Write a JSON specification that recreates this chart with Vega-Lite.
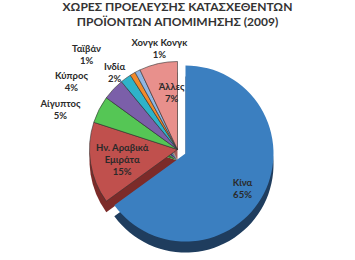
{
  "$schema": "https://vega.github.io/schema/vega-lite/v6.json",
  "width": 355,
  "height": 260,
  "autosize": {"type": "fit", "contains": "padding"},
  "padding": {"left": 4, "right": 4, "top": 13, "bottom": 2},
  "background": "white",
  "config": {"view": {"stroke": null}},
  "title": {
    "text": ["ΧΩΡΕΣ ΠΡΟΕΛΕΥΣΗΣ ΚΑΤΑΣΧΕΘΕΝΤΩΝ", "ΠΡΟΪΟΝΤΩΝ ΑΠΟΜΙΜΗΣΗΣ (2009)"],
    "font": "Lato",
    "fontSize": 12,
    "fontWeight": "bold",
    "color": "#333333",
    "anchor": "middle",
    "lineHeight": 15,
    "offset": 0
  },
  "data": {
    "values": [
      {"idx": 1, "country": "Κίνα", "value": 65, "label": "Κίνα\n65%"},
      {"idx": 2, "country": "Ην. Αραβικά Εμιράτα", "value": 15, "label": "Ην. Αραβικά\nΕμιράτα\n15%"},
      {"idx": 3, "country": "Αίγυπτος", "value": 5, "label": "Αίγυπτος\n5%"},
      {"idx": 4, "country": "Κύπρος", "value": 4, "label": "Κύπρος\n4%"},
      {"idx": 5, "country": "Ινδία", "value": 2, "label": "Ινδία\n2%"},
      {"idx": 6, "country": "Ταϊβάν", "value": 1, "label": "Ταϊβάν\n1%"},
      {"idx": 7, "country": "Χονγκ Κονγκ", "value": 1, "label": "Χονγκ Κονγκ\n1%"},
      {"idx": 8, "country": "Άλλες", "value": 7, "label": "Άλλες\n7%"}
    ]
  },
  "encoding": {
    "theta": {"field": "value", "type": "quantitative", "stack": true},
    "order": {"field": "idx", "type": "quantitative"}
  },
  "layer": [
    {
      "mark": {"type": "arc", "outerRadius": 88, "y": {"expr": "height/2+11"}},
      "encoding": {
        "color": {"field": "country", "type": "nominal", "legend": null,
          "scale": {"domain": ["Κίνα", "Ην. Αραβικά Εμιράτα", "Αίγυπτος", "Κύπρος", "Ινδία", "Ταϊβάν", "Χονγκ Κονγκ", "Άλλες"],
                    "range": ["#1f3d5e", "#7c2b29", "#2e7f2e", "#4a3872", "#1b6f7e", "#9a5414", "#58799f", "#a25c58"]}},
        "opacity": {"condition": {"test": "datum.country === 'Κίνα'", "value": 0}, "value": 1}
      }
    },
    {
      "mark": {"type": "arc", "outerRadius": 88, "y": {"expr": "height/2"}, "stroke": "#333333", "strokeWidth": 0.6},
      "encoding": {
        "color": {"field": "country", "type": "nominal", "legend": null,
          "scale": {"domain": ["Κίνα", "Ην. Αραβικά Εμιράτα", "Αίγυπτος", "Κύπρος", "Ινδία", "Ταϊβάν", "Χονγκ Κονγκ", "Άλλες"],
                    "range": ["#3b7fc0", "#c0504d", "#55c655", "#7b5fa9", "#2fb3c9", "#f28a2a", "#8fb6e2", "#e8908c"]}},
        "opacity": {"condition": {"test": "datum.country === 'Κίνα'", "value": 0}, "value": 1}
      }
    },
    {
      "mark": {"type": "arc", "outerRadius": 88, "x": {"expr": "width/2+8"}, "y": {"expr": "height/2+15"}},
      "encoding": {
        "color": {"field": "country", "type": "nominal", "legend": null,
          "scale": {"domain": ["Κίνα", "Ην. Αραβικά Εμιράτα", "Αίγυπτος", "Κύπρος", "Ινδία", "Ταϊβάν", "Χονγκ Κονγκ", "Άλλες"],
                    "range": ["#1f3d5e", "#7c2b29", "#2e7f2e", "#4a3872", "#1b6f7e", "#9a5414", "#58799f", "#a25c58"]}},
        "opacity": {"condition": {"test": "datum.country === 'Κίνα'", "value": 1}, "value": 0}
      }
    },
    {
      "mark": {"type": "arc", "outerRadius": 88, "x": {"expr": "width/2+8"}, "y": {"expr": "height/2+4"}},
      "encoding": {
        "color": {"field": "country", "type": "nominal", "legend": null,
          "scale": {"domain": ["Κίνα", "Ην. Αραβικά Εμιράτα", "Αίγυπτος", "Κύπρος", "Ινδία", "Ταϊβάν", "Χονγκ Κονγκ", "Άλλες"],
                    "range": ["#3b7fc0", "#c0504d", "#55c655", "#7b5fa9", "#2fb3c9", "#f28a2a", "#8fb6e2", "#e8908c"]}},
        "opacity": {"condition": {"test": "datum.country === 'Κίνα'", "value": 1}, "value": 0}
      }
    },
    {
      "mark": {"type": "text", "radius": 64, "x": {"expr": "width/2+8"}, "y": {"expr": "height/2+4"}, "lineBreak": "\n", "font": "Lato", "fontSize": 9.5, "fontWeight": "bold", "color": "#2a2a2a", "lineHeight": 12},
      "encoding": {"text": {"condition": {"test": "datum.country === 'Κίνα'", "field": "label"}, "value": ""}}
    },
    {
      "mark": {"type": "text", "radius": 56, "dy": -10, "y": {"expr": "height/2"}, "lineBreak": "\n", "font": "Lato", "fontSize": 9.5, "fontWeight": "bold", "color": "#2a2a2a", "lineHeight": 12},
      "encoding": {"text": {"condition": {"test": "datum.country === 'Ην. Αραβικά Εμιράτα'", "field": "label"}, "value": ""}}
    },
    {
      "mark": {"type": "text", "radius": 64, "dx": 8, "y": {"expr": "height/2"}, "lineBreak": "\n", "font": "Lato", "fontSize": 9.5, "fontWeight": "bold", "color": "#2a2a2a", "lineHeight": 12},
      "encoding": {"text": {"condition": {"test": "datum.country === 'Άλλες'", "field": "label"}, "value": ""}}
    },
    {
      "mark": {"type": "text", "radius": 110, "dx": -19, "dy": 4, "y": {"expr": "height/2"}, "lineBreak": "\n", "font": "Lato", "fontSize": 9.5, "fontWeight": "bold", "color": "#2a2a2a", "lineHeight": 12},
      "encoding": {"text": {"condition": {"test": "datum.country === 'Αίγυπτος'", "field": "label"}, "value": ""}}
    },
    {
      "mark": {"type": "text", "radius": 107, "dx": -28, "y": {"expr": "height/2"}, "lineBreak": "\n", "font": "Lato", "fontSize": 9.5, "fontWeight": "bold", "color": "#2a2a2a", "lineHeight": 12},
      "encoding": {"text": {"condition": {"test": "datum.country === 'Κύπρος'", "field": "label"}, "value": ""}}
    },
    {
      "mark": {"type": "text", "radius": 102, "dx": -3, "y": {"expr": "height/2"}, "lineBreak": "\n", "font": "Lato", "fontSize": 9.5, "fontWeight": "bold", "color": "#2a2a2a", "lineHeight": 12},
      "encoding": {"text": {"condition": {"test": "datum.country === 'Ινδία'", "field": "label"}, "value": ""}}
    },
    {
      "mark": {"type": "text", "radius": 106, "dx": -37, "dy": -9, "y": {"expr": "height/2"}, "lineBreak": "\n", "font": "Lato", "fontSize": 9.5, "fontWeight": "bold", "color": "#2a2a2a", "lineHeight": 12},
      "encoding": {"text": {"condition": {"test": "datum.country === 'Ταϊβάν'", "field": "label"}, "value": ""}}
    },
    {
      "mark": {"type": "text", "radius": 106, "dx": 30, "dy": -12, "y": {"expr": "height/2"}, "lineBreak": "\n", "font": "Lato", "fontSize": 9.5, "fontWeight": "bold", "color": "#2a2a2a", "lineHeight": 12},
      "encoding": {"text": {"condition": {"test": "datum.country === 'Χονγκ Κονγκ'", "field": "label"}, "value": ""}}
    }
  ],
  "resolve": {"scale": {"color": "independent"}}
}
